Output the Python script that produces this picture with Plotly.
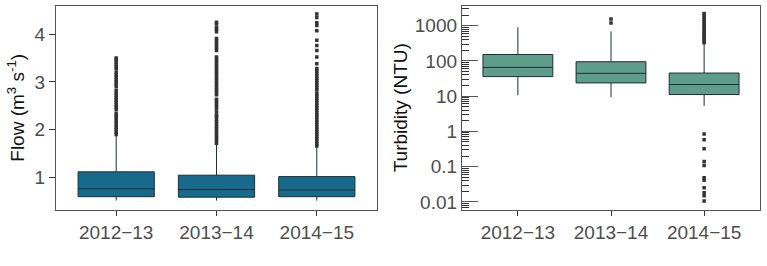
import plotly.graph_objects as go

years = ["2012\u221213", "2013\u221214", "2014\u221215"]

# Flow (m3 s-1) box statistics
flow_q1 = [0.60, 0.59, 0.60]
flow_med = [0.766, 0.75, 0.74]
flow_q3 = [1.12, 1.05, 1.02]
flow_lo = [0.52, 0.52, 0.52]
flow_hi = [1.87, 1.71, 1.65]

flow_out_1 = [1.90, 1.95, 2.00, 2.05, 2.10, 2.15, 2.20, 2.25, 2.30, 2.34,
              2.42, 2.47, 2.52, 2.57, 2.62, 2.67, 2.72, 2.77, 2.82,
              2.90, 2.95, 3.00, 3.05, 3.10, 3.15, 3.20,
              3.27, 3.32, 3.37, 3.42, 3.47, 3.50]
flow_out_2 = [1.72, 1.77, 1.82, 1.87, 1.92, 1.97, 2.02, 2.07, 2.12, 2.17, 2.22, 2.27, 2.31,
              2.37, 2.44, 2.49, 2.54, 2.59, 2.64,
              2.73, 2.78, 2.83, 2.88, 2.93, 2.98, 3.03, 3.08, 3.13, 3.18, 3.23, 3.28,
              3.33, 3.38, 3.43, 3.48, 3.52,
              3.66, 3.71, 3.76, 3.81, 3.86, 3.91,
              4.05, 4.10, 4.14, 4.21, 4.25]
flow_out_3 = [1.66, 1.71, 1.76, 1.81, 1.86, 1.91, 1.96, 2.01, 2.06, 2.11, 2.16, 2.21,
              2.26, 2.31, 2.35, 2.41, 2.46, 2.51, 2.56, 2.61, 2.66, 2.71, 2.76,
              2.83, 2.88, 2.93, 2.98, 3.03, 3.08, 3.13, 3.18, 3.23,
              3.28, 3.38, 3.52, 3.66, 3.76, 3.87, 4.07, 4.18, 4.24, 4.35, 4.42]

# Turbidity (NTU) box statistics
turb_q1 = [35.8, 23.7, 11.1]
turb_med = [65.5, 44.4, 21.4]
turb_q3 = [152, 94.6, 45.2]
turb_lo = [10.6, 9.3, 5.3]
turb_hi = [900, 690, 300]

turb_out_2 = [1190, 1545]
turb_out_3 = [330, 370, 410, 460, 520, 590, 670, 760, 870, 990, 1130, 1290,
              1480, 1700, 1950, 2200,
              0.845, 0.58, 0.32, 0.14, 0.108, 0.048, 0.041, 0.025, 0.018, 0.0148, 0.0105]

FONT = "Liberation Sans"
BOXLINE = "#1e2e34"
OUTC = "#333333"

fig = go.Figure()

fig.add_trace(go.Box(
    x=years, q1=flow_q1, median=flow_med, q3=flow_q3,
    lowerfence=flow_lo, upperfence=flow_hi,
    fillcolor="#176a8b", line=dict(color=BOXLINE, width=1),
    whiskerwidth=0, width=0.76, boxpoints=False,
    xaxis="x", yaxis="y", showlegend=False, hoverinfo="skip"))

for i, vals in enumerate([flow_out_1, flow_out_2, flow_out_3]):
    fig.add_trace(go.Scatter(
        x=[years[i]] * len(vals), y=vals, mode="markers",
        marker=dict(symbol="square", size=3.5, color=OUTC, line=dict(width=0)),
        xaxis="x", yaxis="y", showlegend=False, hoverinfo="skip"))

fig.add_trace(go.Box(
    x=years, q1=turb_q1, median=turb_med, q3=turb_q3,
    lowerfence=turb_lo, upperfence=turb_hi,
    fillcolor="#5e9d89", line=dict(color=BOXLINE, width=1),
    whiskerwidth=0, width=0.75, boxpoints=False,
    xaxis="x2", yaxis="y2", showlegend=False, hoverinfo="skip"))

for i, vals in [(1, turb_out_2), (2, turb_out_3)]:
    fig.add_trace(go.Scatter(
        x=[years[i]] * len(vals), y=vals, mode="markers",
        marker=dict(symbol="square", size=3.5, color=OUTC, line=dict(width=0)),
        xaxis="x2", yaxis="y2", showlegend=False, hoverinfo="skip"))

frame = "#555555"
tickfont = dict(family=FONT, size=19, color="#4d4d4d")
titlefont = dict(family=FONT, size=19, color="#111111")

fig.update_layout(
    width=767, height=266,
    margin=dict(l=0, r=0, t=0, b=0),
    paper_bgcolor="white", plot_bgcolor="white",
    font=dict(family=FONT),
    xaxis=dict(domain=[56/767, 377/767], anchor="y", type="category",
               range=[-0.6, 2.6], showline=True, mirror=True, linecolor=frame,
               linewidth=1.3, ticks="outside", ticklen=5, tickcolor="#333",
               tickfont=tickfont, showgrid=False, zeroline=False),
    yaxis=dict(domain=[1 - 212/266, 1 - 6/266], anchor="x",
               range=[0.33, 4.59], tickvals=[1, 2, 3, 4],
               showline=True, mirror=True, linecolor=frame, linewidth=1.3,
               ticks="outside", ticklen=6, tickcolor="#333",
               tickfont=tickfont, showgrid=False, zeroline=False,
               title=dict(text="Flow (m<sup>3</sup> s<sup>-1</sup>)",
                          font=titlefont, standoff=4)),
    xaxis2=dict(domain=[462/767, 760/767], anchor="y2", type="category",
                range=[-0.6, 2.6], showline=True, mirror=True, linecolor=frame,
                linewidth=1.3, ticks="outside", ticklen=5, tickcolor="#333",
                tickfont=tickfont, showgrid=False, zeroline=False),
    yaxis2=dict(domain=[1 - 212/266, 1 - 6/266], anchor="x2", type="log",
                range=[-2.22, 3.56],
                tickvals=[0.01, 0.1, 1, 10, 100, 1000],
                ticktext=["0.01", "0.1", "1", "10", "100", "1000"],
                showline=True, mirror=True, linecolor=frame, linewidth=1.3,
                ticks="inside", ticklen=16, tickcolor="#555",
                minor=dict(ticks="inside", ticklen=7, tickcolor="#333",
                           dtick="D1", showgrid=False),
                tickfont=tickfont, showgrid=False, zeroline=False,
                title=dict(text="Turbidity (NTU)", font=titlefont, standoff=2)),
)

fig.write_html("out.html")
